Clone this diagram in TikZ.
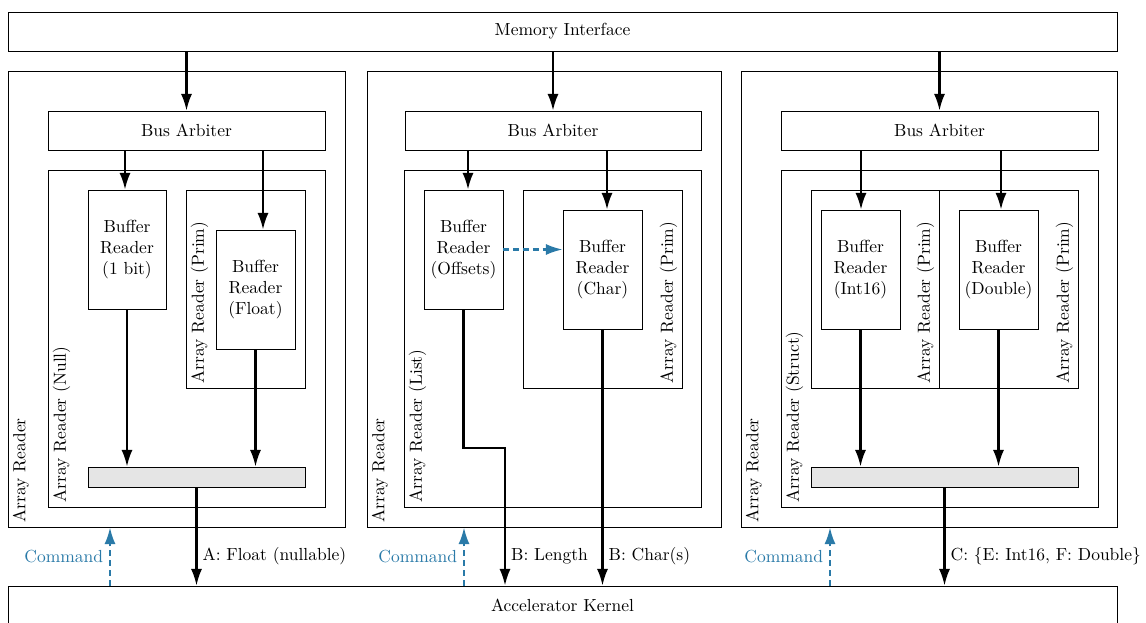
\documentclass[tikz,border=0pt]{standalone}
\usepackage{tikz}
\usetikzlibrary{fit,positioning,arrows.meta}
\definecolor{cmdblue}{HTML}{2A7AA8}

\begin{document}
\begin{tikzpicture}[x=0.572pt, y=-0.572pt,
		blk/.style={draw, line width=0.5pt, inner sep=0pt},
		txt/.style={label={[align=center]center:#1}},
		bar/.style={blk, fill=gray!20},
		tag/.style={rotate=90, inner sep=2.8pt},
		arr/.style={line width=1.2pt, -{Latex[length=9.5pt, width=6.3pt]}},
		cmd/.style={arr, draw=cmdblue, dash pattern=on 3.3pt off 2.3pt}]
	\useasboundingbox (0,0) rectangle (1146,622);
	%% Memory on top, kernel at the bottom (its lower edge runs off the page)
	\node[blk, fit={(8,12) (1117,51)}, txt={Memory Interface}] (mem) {};
	\node[blk, fit={(8,586) (1117,625)}, txt={Accelerator Kernel}] (kern) {};
	
	%% Column A: nullable float
	\begin{scope}
		\node[blk, fit={(8,71) (345,527)}] (arA) {};
		\node[tag, anchor=north west] (arAt) at (arA.south west) {Array Reader};
		\node[blk, fit={(48,111) (325,150)}, txt={Bus Arbiter}] (busA) {};
		\node[blk, fit={(48,170) (325,507)}] (nulA) {};
		\node[tag, anchor=north west] (nulAt) at (nulA.south west) {Array Reader (Null)};
		\node[blk, fit={(88,190) (166,309)}, txt={Buffer\\Reader\\(1 bit)}] (bitA) {};
		\node[blk, fit={(186,190) (305,388)}] (primA) {};
		\node[tag, anchor=north west] (primAt) at (primA.south west) {Array Reader (Prim)};
		\node[blk, fit={(216,230) (295,349)}, txt={Buffer\\Reader\\(Float)}] (fltA) {};
		\node[bar, fit={(88,467) (305,487)}] (barA) {};
	\end{scope}
	\draw[arr] (mem.south -| busA.north) -- (busA.north);
	\draw[arr] (busA.south -| 125,0) -- (125,0 |- bitA.north);
	\draw[arr] (busA.south -| 263,0) -- (263,0 |- fltA.north);
	\draw[arr] (bitA.south) -- (barA.north -| bitA.south);
	\draw[arr] (fltA.south) -- (barA.north -| fltA.south);
	\draw[arr] (barA.south) -- (kern.north -| barA.south);
	\node[right] (lblA) at (barA.south |- 0,556.5) {A: Float (nullable)};
	\draw[cmd] (kern.north -| 110,0) -- node[left, text=cmdblue] (cmdA) {Command} (arA.south -| 110,0);
	
	%% Column B: list of chars
	\begin{scope}
		\node[blk, fit={(367,71) (721,527)}] (arB) {};
		\node[tag, anchor=north west] (arBt) at (arB.south west) {Array Reader};
		\node[blk, fit={(405,111) (701,150)}, txt={Bus Arbiter}] (busB) {};
		\node[blk, fit={(404,170) (701,507)}] (lstB) {};
		\node[tag, anchor=north west] (lstBt) at (lstB.south west) {Array Reader (List)};
		\node[blk, fit={(424,190) (503,309)}, txt={Buffer\\Reader\\(Offsets)}] (offB) {};
		\node[blk, fit={(523,190) (682,388)}] (primB) {};
		\node[tag, anchor=south west] (primBt) at (primB.south east) {Array Reader (Prim)};
		\node[blk, fit={(563,210) (642,329)}, txt={Buffer\\Reader\\(Char)}] (chrB) {};
	\end{scope}
	\draw[arr] (mem.south -| busB.north) -- (busB.north);
	\draw[arr] (busB.south -| 468,0) -- (468,0 |- offB.north);
	\draw[arr] (busB.south -| 607,0) -- (607,0 |- chrB.north);
	\draw[cmd] (offB.east) -- (chrB.west |- offB.east);
	\draw[arr] (offB.south) |- (505,448) -- (kern.north -| 505,0);
	\draw[arr] (chrB.south) -- (kern.north -| chrB.south);
	\node[right] (lblB1) at (505,556.5) {B: Length};
	\node[right] (lblB2) at (chrB.south |- 0,556.5) {B: Char(s)};
	\draw[cmd] (kern.north -| 464,0) -- node[left, text=cmdblue] (cmdB) {Command} (arB.south -| 464,0);
	
	%% Column C: struct of int16 and double
	\begin{scope}
		\node[blk, fit={(741,71) (1117,527)}] (arC) {};
		\node[tag, anchor=north west] (arCt) at (arC.south west) {Array Reader};
		\node[blk, fit={(781,111) (1098,150)}, txt={Bus Arbiter}] (busC) {};
		\node[blk, fit={(781,170) (1098,507)}] (strC) {};
		\node[tag, anchor=north west] (strCt) at (strC.south west) {Array Reader (Struct)};
		\node[blk, fit={(811,190) (939,388)}] (primC) {};
		\node[tag, anchor=south west] (primCt) at (primC.south east) {Array Reader (Prim)};
		\node[blk, fit={(939,190) (1078,388)}] (primD) {};
		\node[tag, anchor=south west] (primDt) at (primD.south east) {Array Reader (Prim)};
		\node[blk, fit={(821,210) (900,329)}, txt={Buffer\\Reader\\(Int16)}] (intC) {};
		\node[blk, fit={(959,210) (1038,329)}, txt={Buffer\\Reader\\(Double)}] (dblC) {};
		\node[bar, fit={(811,467) (1078,487)}] (barC) {};
	\end{scope}
	\draw[arr] (mem.south -| busC.north) -- (busC.north);
	\draw[arr] (busC.south -| 861,0) -- (861,0 |- intC.north);
	\draw[arr] (busC.south -| 1001,0) -- (1001,0 |- dblC.north);
	\draw[arr] (intC.south) -- (barC.north -| intC.south);
	\draw[arr] (dblC.south) -- (barC.north -| dblC.south);
	\draw[arr] (barC.south) -- (kern.north -| barC.south);
	\node[right] (lblC) at (barC.south |- 0,556.5) {C: \{E: Int16, F: Double\}};
	\draw[cmd] (kern.north -| 830,0) -- node[left, text=cmdblue] (cmdC) {Command} (arC.south -| 830,0);
\end{tikzpicture}
\end{document}
